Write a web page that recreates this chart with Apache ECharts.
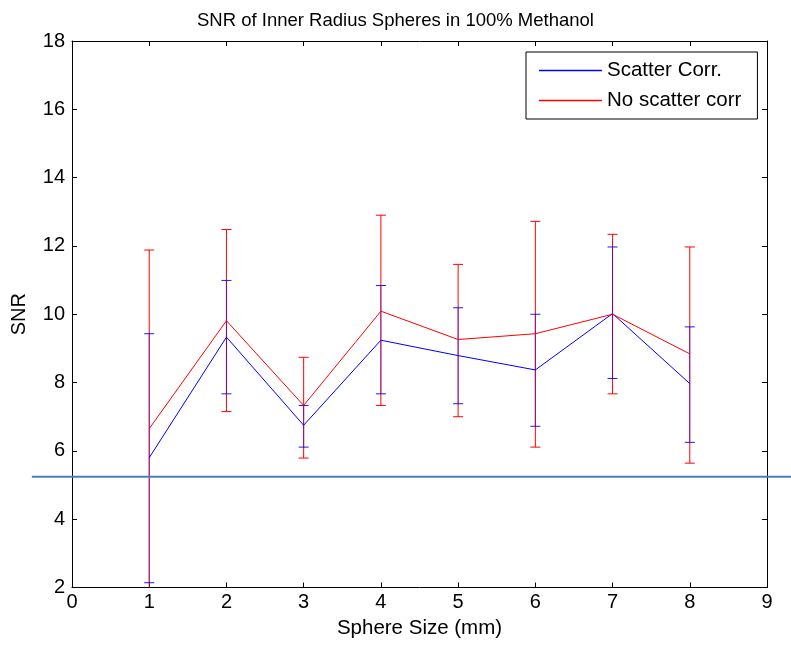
<!DOCTYPE html>
<html>
<head>
<meta charset="utf-8">
<script src="https://cdn.jsdelivr.net/npm/echarts@6/dist/echarts.min.js"></script>
<style>html,body{margin:0;padding:0;background:#fff;}#c{width:791px;height:648px;}</style>
</head>
<body>
<div id="c"></div>
<script>
const xValues = [1, 2, 3, 4, 5, 6, 7, 8];
const scatterCorr = [5.80, 9.33, 6.75, 9.24, 8.79, 8.37, 10.02, 7.97];
const scatterCorrLow = [2.14, 7.67, 6.11, 7.67, 7.38, 6.72, 8.12, 6.25];
const scatterCorrHigh = [9.43, 10.99, 7.33, 10.84, 10.19, 10.00, 11.97, 9.63];
const noScatter = [6.65, 9.81, 7.33, 10.09, 9.26, 9.43, 10.00, 8.84];
const noScatterLow = [1.42, 7.15, 5.79, 7.33, 7.00, 6.11, 7.67, 5.64];
const noScatterHigh = [11.88, 12.48, 8.74, 12.90, 11.46, 12.72, 12.34, 11.97];
const thresholdX = [-0.52, 9.32];
const thresholdY = [5.24, 5.24];
const xTicks = [0, 1, 2, 3, 4, 5, 6, 7, 8, 9];
const yTicks = [2, 4, 6, 8, 10, 12, 14, 16, 18];

const FONT = 'Liberation Sans, Arial, sans-serif';

function pairs(xs, ys) { return xs.map((x, i) => [x, ys[i]]); }
function errData(xs, lo, hi) { return xs.map((x, i) => [x, lo[i], hi[i]]); }

function errRender(color, barOpacity, capOpacity) {
  return function (params, api) {
    const x = api.value(0), lo = api.value(1), hi = api.value(2);
    const pLo = api.coord([x, lo]);
    const pHi = api.coord([x, hi]);
    const w = 5;
    const st = { stroke: color, lineWidth: 1, opacity: barOpacity };
    const cst = { stroke: color, lineWidth: 1, opacity: capOpacity };
    return {
      type: 'group',
      children: [
        { type: 'line', shape: { x1: pLo[0], y1: pLo[1], x2: pHi[0], y2: pHi[1] }, style: st },
        { type: 'line', shape: { x1: pHi[0] - w, y1: pHi[1], x2: pHi[0] + w, y2: pHi[1] }, style: cst },
        { type: 'line', shape: { x1: pLo[0] - w, y1: pLo[1], x2: pLo[0] + w, y2: pLo[1] }, style: cst }
      ]
    };
  };
}

function thresholdRender(params, api) {
  const a = api.coord([thresholdX[0], thresholdY[0]]);
  const b = api.coord([thresholdX[1], thresholdY[1]]);
  if (params.dataIndex !== 0) return null;
  return {
    type: 'line',
    shape: { x1: a[0], y1: a[1], x2: b[0], y2: b[1] },
    style: { stroke: '#4a7ebb', lineWidth: 2 }
  };
}

const axisCommon = {
  type: 'value',
  axisLine: { show: true, onZero: false, lineStyle: { color: '#000', width: 1 } },
  axisTick: { show: true, inside: true, length: 5, lineStyle: { color: '#000' } },
  splitLine: { show: false },
  axisLabel: { color: '#000', fontSize: 20, fontFamily: FONT }
};

const chart = echarts.init(document.getElementById('c'), null, { renderer: 'canvas' });
chart.setOption({
  animation: false,
  backgroundColor: '#fff',
  title: {
    text: 'SNR of Inner Radius Spheres in 100% Methanol',
    left: 'center',
    top: 6,
    textStyle: { color: '#000', fontSize: 18.5, fontWeight: 'normal', fontFamily: FONT }
  },
  grid: { left: 72, right: 24, top: 41, bottom: 60.5, containLabel: false },
  legend: {
    orient: 'vertical',
    left: 526,
    top: 52,
    padding: [8, 16, 8, 13],
    borderColor: '#000',
    borderWidth: 1,
    backgroundColor: '#fff',
    itemWidth: 63,
    itemHeight: 1.5,
    itemGap: 9,
    icon: 'rect',
    textStyle: { color: '#000', fontSize: 20.5, fontFamily: FONT },
    data: ['Scatter Corr.', 'No scatter corr']
  },
  xAxis: [
    Object.assign({}, axisCommon, {
      position: 'bottom', min: 0, max: 9, interval: 1,
      name: 'Sphere Size (mm)', nameLocation: 'middle', nameGap: 30,
      nameTextStyle: { color: '#000', fontSize: 20.5, fontFamily: FONT },
      axisLabel: Object.assign({}, axisCommon.axisLabel, { margin: 5 })
    }),
    Object.assign({}, axisCommon, {
      position: 'top', min: 0, max: 9, interval: 1,
      axisLabel: { show: false }
    })
  ],
  yAxis: [
    Object.assign({}, axisCommon, {
      position: 'left', min: 2, max: 18, interval: 2,
      name: 'SNR', nameLocation: 'middle', nameGap: 43,
      nameTextStyle: { color: '#000', fontSize: 20, fontFamily: FONT },
      axisLabel: Object.assign({}, axisCommon.axisLabel, { margin: 7 })
    }),
    Object.assign({}, axisCommon, {
      position: 'right', min: 2, max: 18, interval: 2,
      axisLabel: { show: false }
    })
  ],
  series: [
    {
      name: 'No scatter corr err', type: 'custom', clip: true, silent: true,
      renderItem: errRender('#ff0000', 1, 1),
      encode: { x: 0, y: [1, 2] },
      data: errData(xValues, noScatterLow, noScatterHigh), z: 2
    },
    {
      name: 'Scatter Corr. err', type: 'custom', clip: true, silent: true,
      renderItem: errRender('#0000ff', 0.5, 0.9),
      encode: { x: 0, y: [1, 2] },
      data: errData(xValues, scatterCorrLow, scatterCorrHigh), z: 3
    },
    {
      name: 'Scatter Corr.', type: 'line', symbol: 'none', z: 4,
      lineStyle: { color: '#0000ff', width: 1 }, itemStyle: { color: '#0000ff' },
      data: pairs(xValues, scatterCorr)
    },
    {
      name: 'No scatter corr', type: 'line', symbol: 'none', z: 5,
      lineStyle: { color: '#ff0000', width: 1 }, itemStyle: { color: '#ff0000' },
      data: pairs(xValues, noScatter)
    },
    {
      name: 'threshold', type: 'custom', clip: false, z: 6, silent: true,
      renderItem: thresholdRender,
      encode: { x: 0, y: 1 },
      data: [[thresholdX[0], thresholdY[0]]]
    }
  ]
});
</script>
</body>
</html>
